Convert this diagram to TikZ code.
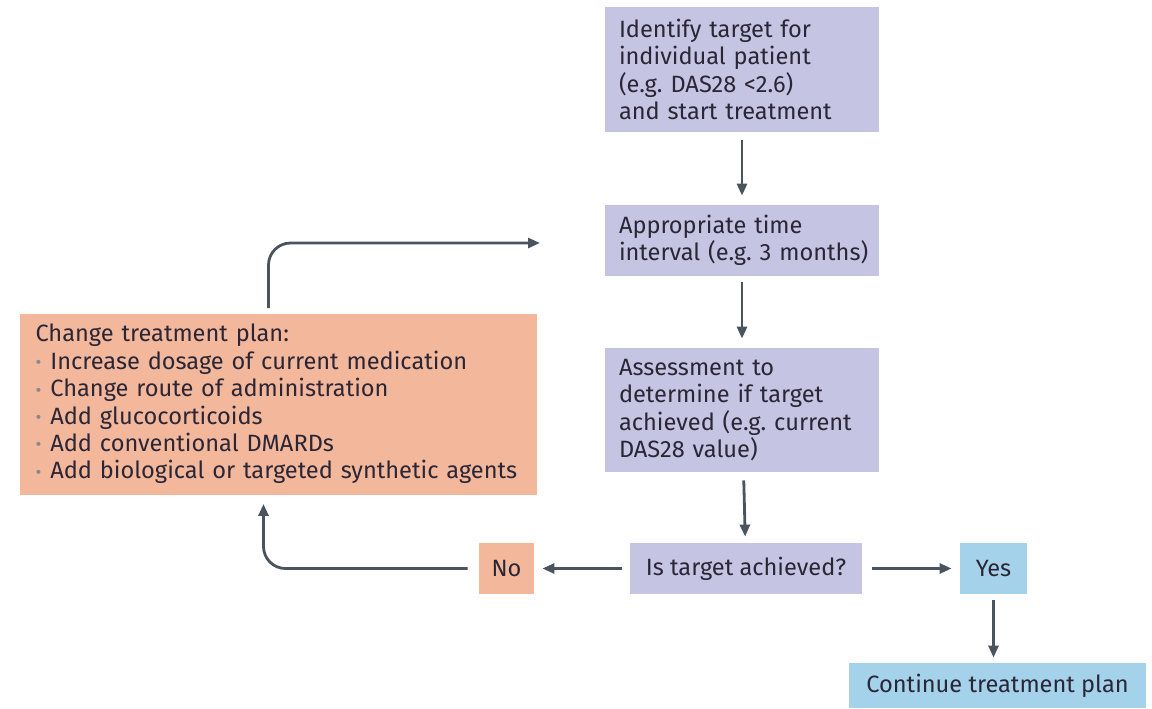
\documentclass[tikz,border=0pt]{standalone}
\usepackage{fontspec}
\setmainfont{Fira Sans}
\usepackage{tikz}
\usetikzlibrary{arrows.meta,positioning,calc}
\definecolor{boxlilac}{HTML}{C6C4E3}
\definecolor{boxsalmon}{HTML}{F3B79C}
\definecolor{boxblue}{HTML}{A5D2EB}
\definecolor{arrgray}{HTML}{4A545E}
\definecolor{txtdark}{HTML}{2A2636}
\definecolor{bulgray}{HTML}{8A8790}
\newcommand{\bul}{\textcolor{bulgray}{\raisebox{0.05ex}{\small\textbullet}}\hspace{4.5pt}}
\frenchspacing
\tikzset{
  flowbox/.style={
    fill=#1, text=txtdark, font=\fontsize{11.8}{13.7}\selectfont,
    align=left, inner xsep=7pt, inner ysep=0pt
  },
  stepbox/.style={
    flowbox=boxlilac, minimum width=137pt, text width=129pt,
    inner xsep=4pt, execute at begin node={\leftskip=3pt}
  },
  answbox/.style={
    flowbox=#1, align=center, minimum height=25.5pt
  },
  flowarr/.style={-{Triangle[length=6pt,width=5pt]}, draw=arrgray,
                  line width=1.4pt}
}
\begin{document}
\begin{tikzpicture}[x=0.5pt,y=-0.5pt]
  \useasboundingbox (0,0) rectangle (1152,708);

  %% ---- main column ----
  \node[stepbox, minimum height=62.5pt] (target) at (742,69.5) {
    Identify target for\\
    individual patient\\
    (e.g. DAS28 <2.6)\\
    and start treatment
  };
  \node[stepbox, minimum height=35.5pt] (interval) at (742,240.5) {
    Appropriate time\\
    interval (e.g. 3 months)
  };
  \node[stepbox, minimum height=62pt] (assess) at (742,410) {
    Assessment to\\
    determine if target\\
    achieved (e.g. current\\
    DAS28 value)
  };
  \node[answbox=boxlilac, minimum width=116pt] (achieved) at (746,568.5)
    {Is target achieved?};

  %% ---- answers ----
  \node[answbox=boxsalmon, minimum width=27.5pt, inner xsep=2pt] (no)
    at (506.5,568.5) {No};
  \node[answbox=boxblue, minimum width=33.5pt, inner xsep=2pt] (yes)
    at (993.5,568.5) {Yes};
  \node[flowbox=boxblue, align=center, minimum width=148.5pt,
        minimum height=22.5pt] (cont) at (997.5,685.5)
    {Continue treatment plan};

  %% ---- change of plan ----
  \node[flowbox=boxsalmon, minimum width=258.5pt, minimum height=90.5pt,
        text width=248pt, inner xsep=5.25pt,
        execute at begin node={\leftskip=2.5pt}] (change)
    at (278.5,404) {
    Change treatment plan:\\
    \bul Increase dosage of current medication\\
    \bul Change route of administration\\
    \bul Add glucocorticoids\\
    \bul Add conventional DMARDs\\
    \bul Add biological or targeted synthetic agents
  };

  \coordinate (loopend) at (540,243);

  %% Connectors
  \draw[flowarr, shorten <=4pt, shorten >=4.5pt] (target) -- (interval);
  \draw[flowarr, shorten <=3pt, shorten >=4.5pt] (interval) -- (assess);
  \draw[flowarr, shorten <=4pt, shorten >=3pt] (assess) -- (achieved);
  \draw[flowarr, shorten <=4pt, shorten >=4pt] (achieved) -- (no);
  \draw[flowarr, shorten <=5pt, shorten >=4pt] (achieved) -- (yes);
  \draw[flowarr, shorten <=3pt, shorten >=2.5pt] (yes) -- (yes |- cont.north);
  \draw[flowarr, rounded corners=11pt, shorten <=5.5pt, shorten >=4.5pt]
    (no.west) -| ([xshift=-7.5pt]change.south);
  \draw[flowarr, rounded corners=11pt, shorten <=2.5pt]
    ([xshift=-5pt]change.north) |- (loopend);

\end{tikzpicture}
\end{document}
